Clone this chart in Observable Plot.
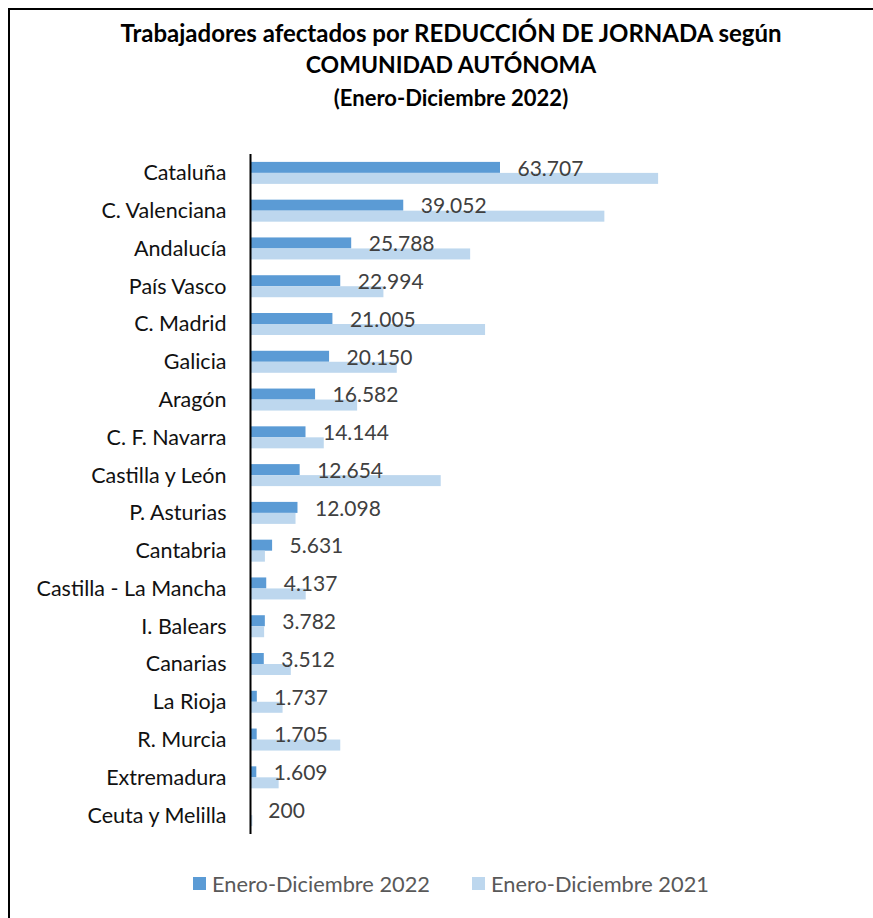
<!DOCTYPE html>
<html>
<head>
<meta charset="utf-8">
<script src="https://cdn.jsdelivr.net/npm/d3@7"></script>
<script src="https://cdn.jsdelivr.net/npm/@observablehq/plot@0.6"></script>
<style>
html, body { margin: 0; padding: 0; overflow: hidden; background: #fff; width: 873px; height: 918px; }
#frame { position: absolute; left: 8px; top: 8px; width: 886px; height: 960px; border: 2px solid #000; box-sizing: border-box; }
.t { position: absolute; left: 0; width: 902px; text-align: center; font-family: Lato, sans-serif; font-weight: 700; color: #000; white-space: nowrap; line-height: normal; }
#chart { position: absolute; left: 0; top: 154px; line-height: 0; }
#legend { position: absolute; left: 0; width: 902px; top: 870px; display: flex; justify-content: center; gap: 42px; font-family: Lato, sans-serif; font-size: 21.8px; color: #595959; }
#legend .item { display: flex; align-items: center; }
#legend .sw { width: 13px; height: 13px; margin-right: 6px; }
</style>
</head>
<body>
<div id="frame"></div>
<div class="t" id="t1" style="top:18px;font-size:24px;"></div>
<div class="t" id="t2" style="top:49.5px;font-size:23px;"></div>
<div class="t" id="t3" style="top:84px;font-size:22px;"></div>
<div id="chart"></div>
<div id="legend"></div>
<script>
const titleLines = ["Trabajadores afectados por REDUCCIÓN DE JORNADA según", "COMUNIDAD AUTÓNOMA", "(Enero-Diciembre 2022)"];

const categories = ["Cataluña", "C. Valenciana", "Andalucía", "País Vasco", "C. Madrid", "Galicia", "Aragón", "C. F. Navarra", "Castilla y León", "P. Asturias", "Cantabria", "Castilla - La Mancha", "I. Balears", "Canarias", "La Rioja", "R. Murcia", "Extremadura", "Ceuta y Melilla"];
const values2022 = [63707, 39052, 25788, 22994, 21005, 20150, 16582, 14144, 12654, 12098, 5631, 4137, 3782, 3512, 1737, 1705, 1609, 200];
const values2021 = [104000, 90300, 56100, 34000, 59900, 37400, 27300, 18800, 48600, 11600, 3800, 14200, 3600, 10400, 8300, 23000, 7300, 600];

const seriesNames = ["Enero-Diciembre 2022", "Enero-Diciembre 2021"];
const seriesColors = ["#5B9BD5", "#BDD7EE"];

document.getElementById("t1").textContent = titleLines[0];
document.getElementById("t2").textContent = titleLines[1];
document.getElementById("t3").textContent = titleLines[2];

const data = categories.map((c, i) => ({cat: c, v2022: values2022[i], v2021: values2021[i]}));
const loc = d3.formatLocale({decimal: ",", thousands: ".", grouping: [3], currency: ["", "€"]});
const fmt = loc.format(",d");

const H = 680;
const step = H / categories.length;
const barH = 11;
const gap = (step - 2 * barH) / 2;

const chart = Plot.plot({
  width: 873,
  height: H,
  marginLeft: 250,
  marginRight: 191.34,
  marginTop: 0,
  marginBottom: 0,
  x: {domain: [0, 110000], axis: null},
  y: {domain: categories, padding: 0, round: false, tickSize: 0, tickPadding: 24, label: null},
  style: {fontFamily: "Lato, sans-serif", fontSize: "21.5px", color: "#111", background: "transparent", overflow: "visible"},
  marks: [
    Plot.barX(data, {x: "v2022", y: "cat", fill: seriesColors[0], insetTop: gap, insetBottom: step / 2}),
    Plot.barX(data, {x: "v2021", y: "cat", fill: seriesColors[1], insetTop: step / 2, insetBottom: gap}),
    Plot.ruleX([0], {stroke: "#000", strokeWidth: 2}),
    Plot.text(data, {x: "v2022", y: "cat", text: d => fmt(d.v2022), dx: 17, dy: -4.5, textAnchor: "start", fill: "#404040", fontSize: 21})
  ]
});
document.getElementById("chart").appendChild(chart);

const legend = document.getElementById("legend");
seriesNames.forEach((n, i) => {
  const it = document.createElement("div");
  it.className = "item";
  const sw = document.createElement("div");
  sw.className = "sw";
  sw.style.background = seriesColors[i];
  const tx = document.createElement("span");
  tx.textContent = n;
  it.appendChild(sw);
  it.appendChild(tx);
  legend.appendChild(it);
});
</script>
</body>
</html>
